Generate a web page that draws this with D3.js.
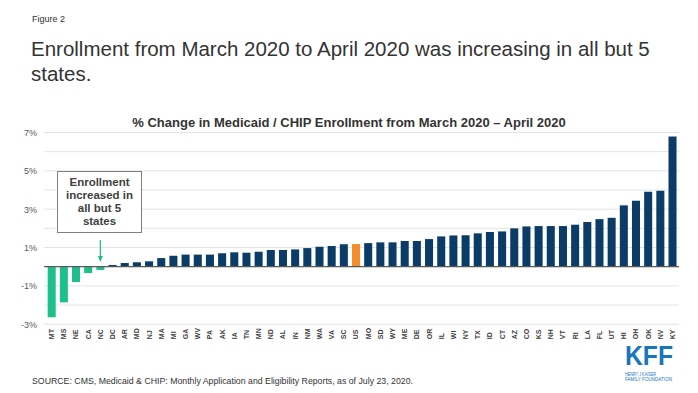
<!DOCTYPE html>
<html>
<head>
<meta charset="utf-8">
<script src="https://cdn.jsdelivr.net/npm/d3@7"></script>
<style>
  html, body { margin: 0; padding: 0; background: #fff; }
  svg text { font-family: "Liberation Sans", Arial, sans-serif; }
</style>
</head>
<body>
<div id="chart"></div>
<script>
// Data
const states = ['MT','MS','NE','CA','NC','DC','AR','MD','NJ','MA','MI','GA','WV','PA','AK','IA',
  'TN','MN','ND','AL','IN','NM','WA','VA','SC','US','MO','SD','WY','ME','DE','OR','IL','WI','NY',
  'TX','ID','CT','AZ','CO','KS','NH','VT','RI','LA','FL','UT','HI','OH','OK','NV','KY'];
const changes = [-2.64,-1.86,-0.80,-0.33,-0.17,0.09,0.19,0.23,0.28,0.45,0.57,0.63,0.63,0.63,0.70,0.75,
  0.73,0.78,0.87,0.87,0.90,0.97,1.04,1.08,1.17,1.18,1.23,1.27,1.27,1.34,1.34,1.44,1.58,1.63,1.64,
  1.74,1.81,1.84,2.00,2.10,2.12,2.12,2.12,2.19,2.33,2.48,2.55,3.20,3.44,3.91,3.96,6.79];
const yTicks = [-3, -1, 1, 3, 5, 7];
const gridTicks = [-3, -2, -1, 0, 1, 2, 3, 4, 5, 6, 7];

const W = 698, H = 393;
const svg = d3.select('#chart').append('svg')
  .attr('width', W).attr('height', H);

// Titles
svg.append('text').attr('x', 32).attr('y', 22)
  .attr('font-size', 9).attr('fill', '#333').text('Figure 2');
svg.append('text').attr('x', 31).attr('y', 56)
  .attr('font-size', 20.5).attr('fill', '#333')
  .text('Enrollment from March 2020 to April 2020 was increasing in all but 5');
svg.append('text').attr('x', 31).attr('y', 81)
  .attr('font-size', 20.5).attr('fill', '#333').text('states.');

svg.append('text').attr('x', 349).attr('y', 127)
  .attr('text-anchor', 'middle').attr('font-size', 13).attr('font-weight', 'bold')
  .attr('fill', '#333')
  .text('% Change in Medicaid / CHIP Enrollment from March 2020 \u2013 April 2020');

// Scales
const x = d3.scaleBand().domain(states).range([45.6, 678.6])
  .paddingInner(0.34).paddingOuter(0.17);
const y = d3.scaleLinear().domain([-3, 7]).range([324.2, 132.5]);

// Gridlines
svg.append('g').selectAll('line').data(gridTicks).join('line')
  .attr('x1', 44).attr('x2', 679)
  .attr('y1', d => y(d)).attr('y2', d => y(d))
  .attr('stroke', '#e4e4e4').attr('stroke-width', 1);

// Y axis labels
const yAxis = svg.append('g').attr('transform', 'translate(44,0)')
  .call(d3.axisLeft(y).tickValues(yTicks).tickFormat(d => d + '%').tickSize(0).tickPadding(7));
yAxis.select('.domain').remove();
yAxis.selectAll('text').attr('font-size', 9).attr('fill', '#595959')
  .style('font-family', '"Liberation Sans", Arial, sans-serif');

// Bars
const data = states.map((s, i) => ({ s, v: changes[i] }));
svg.append('g').selectAll('rect').data(data).join('rect')
  .attr('x', d => x(d.s))
  .attr('width', x.bandwidth())
  .attr('y', d => y(Math.max(0, d.v)))
  .attr('height', d => Math.abs(y(d.v) - y(0)))
  .attr('fill', d => d.s === 'US' ? '#f28e2b' : (d.v < 0 ? '#1dbf8a' : '#0b3c67'));

// Zero line
svg.append('line').attr('x1', 44).attr('x2', 679)
  .attr('y1', y(0)).attr('y2', y(0))
  .attr('stroke', '#595959').attr('stroke-width', 1.3);

// X axis labels (rotated)
const xAxis = svg.append('g').attr('transform', `translate(0,${y(-3)})`)
  .call(d3.axisBottom(x).tickSize(0).tickPadding(0));
xAxis.select('.domain').remove();
xAxis.selectAll('text')
  .attr('transform', 'rotate(-90)')
  .attr('x', -15).attr('y', 0).attr('dy', '0.35em')
  .attr('text-anchor', 'start')
  .attr('font-size', 7).attr('font-weight', 'bold').attr('fill', '#404040')
  .style('font-family', '"Liberation Sans", Arial, sans-serif');

// Annotation box
const ann = svg.append('g');
ann.append('rect').attr('x', 57.5).attr('y', 171.5).attr('width', 84).attr('height', 61)
  .attr('fill', '#fff').attr('stroke', '#7f7f7f').attr('stroke-width', 1);
['Enrollment', 'increased in', 'all but 5', 'states'].forEach((t, i) => {
  ann.append('text').attr('x', 99.5).attr('y', 186 + i * 13)
    .attr('text-anchor', 'middle').attr('font-size', 11.5).attr('font-weight', 'bold')
    .attr('fill', '#404040').text(t);
});
const ax = x('NC') + x.bandwidth() / 2;
ann.append('line').attr('x1', ax).attr('x2', ax).attr('y1', 240).attr('y2', 258)
  .attr('stroke', '#1dbf8a').attr('stroke-width', 1.3);
ann.append('path')
  .attr('d', `M${ax - 2.5},${256} L${ax + 2.5},${256} L${ax},${262} Z`)
  .attr('fill', '#1dbf8a');

// Source
svg.append('text').attr('x', 32).attr('y', 384)
  .attr('font-size', 9).attr('fill', '#333')
  .attr('textLength', 381).attr('lengthAdjust', 'spacingAndGlyphs')
  .text('SOURCE:  CMS, Medicaid & CHIP: Monthly Application and Eligibility Reports, as of July 23, 2020.');

// Logo (glyph heights scaled so the small lines sit below the letters)
const logo = svg.append('g');
logo.append('text').attr('transform', 'translate(625,365) scale(1,1.45)')
  .attr('font-size', 19).attr('font-weight', 'bold').attr('fill', '#1b75bb')
  .attr('textLength', 48).attr('lengthAdjust', 'spacingAndGlyphs').text('KFF');
logo.append('text').attr('x', 625).attr('y', 376)
  .attr('font-size', 4.5).attr('fill', '#1b75bb')
  .attr('textLength', 31).attr('lengthAdjust', 'spacingAndGlyphs').text('HENRY J KAISER');
logo.append('text').attr('x', 625).attr('y', 381)
  .attr('font-size', 4.5).attr('fill', '#1b75bb')
  .attr('textLength', 47).attr('lengthAdjust', 'spacingAndGlyphs').text('FAMILY FOUNDATION');
</script>
</body>
</html>
